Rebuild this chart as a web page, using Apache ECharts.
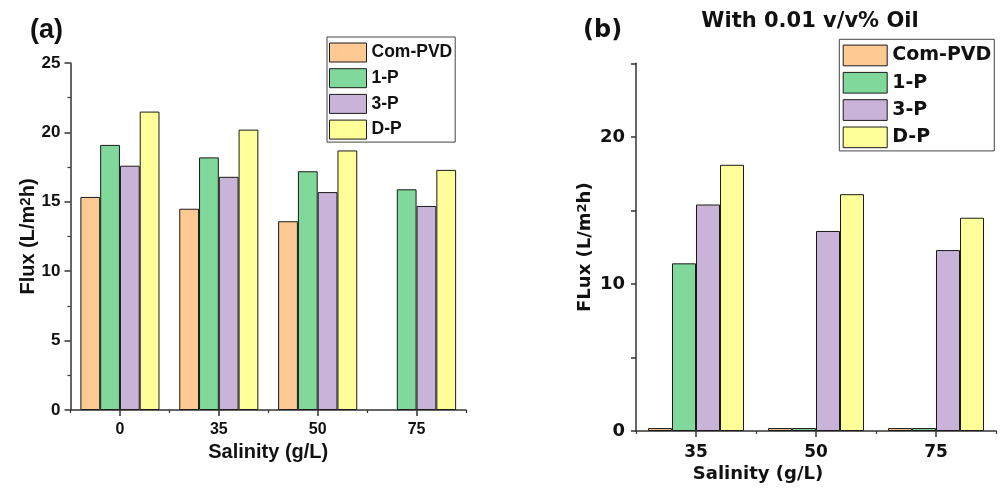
<!DOCTYPE html>
<html>
<head>
<meta charset="utf-8">
<script src="https://cdn.jsdelivr.net/npm/echarts@6/dist/echarts.min.js"></script>
<style>
html,body{margin:0;padding:0;background:#fff;}
#c{width:1001px;height:488px;}
</style>
</head>
<body>
<div id="c"></div>
<script>
// ---- data ----
const seriesNames = ['Com-PVD', '1-P', '3-P', 'D-P'];
const categoriesA = ['0', '35', '50', '75'];
const comPVD_A = [15.35, 14.5, 13.6, null];
const oneP_A = [19.1, 18.2, 17.2, 15.9];
const threeP_A = [17.6, 16.8, 15.7, 14.7];
const dP_A = [21.5, 20.2, 18.7, 17.3];

const categoriesB = ['35', '50', '75'];
const comPVD_B = [0.2, 0.2, 0.2];
const oneP_B = [11.4, 0.2, 0.2];
const threeP_B = [15.4, 13.6, 12.3];
const dP_B = [18.1, 16.1, 14.5];

const titleA = '(a)';
const titleB = '(b)';
const subtitleB = 'With 0.01 v/v% Oil';
const xNameA = 'Salinity (g/L)';
const xNameB = 'Salinity (g/L)';

// ---- styles ----
const colors = ['#FFC994', '#80D99B', '#C9B3D8', '#FFFF99'];
const FA = 'Arial, "Liberation Sans", sans-serif';
const FB = '"DejaVu Sans", sans-serif';
const axisColor = '#333';

const dataA = [comPVD_A, oneP_A, threeP_A, dP_A];
const dataB = [comPVD_B, oneP_B, threeP_B, dP_B];

function barSeries(data, xi, yi) {
  return seriesNames.map((n, i) => ({
    name: n, type: 'bar', xAxisIndex: xi, yAxisIndex: yi,
    data: data[i].map(v => v === null ? '-' : v),
    barGap: '0%', barCategoryGap: '20%',
    itemStyle: { color: colors[i], borderColor: '#1a1a1a', borderWidth: 1 },
    emphasis: { disabled: true }
  }));
}

function catAxis(gi, cats, fontFam, fs, margin, name, nameGap, nameFs, namePad) {
  return [{
    type: 'category', gridIndex: gi, data: cats, position: 'bottom',
    axisLine: { show: true, lineStyle: { color: axisColor, width: 1.5 } },
    axisTick: { show: true, alignWithLabel: true, length: 6, lineStyle: { color: axisColor, width: 1.5 } },
    axisLabel: { margin: margin, fontFamily: fontFam, fontWeight: 'bold', fontSize: fs, color: '#111' },
    name: name, nameLocation: 'middle', nameGap: nameGap, nameMoveOverlap: false,
    nameTextStyle: { fontFamily: fontFam, fontWeight: 'bold', fontSize: nameFs, color: '#111', padding: namePad }
  }, {
    type: 'category', gridIndex: gi, data: cats, position: 'bottom',
    axisLine: { show: false },
    axisTick: { show: true, alignWithLabel: false, length: 3, lineStyle: { color: axisColor, width: 1.2 } },
    axisLabel: { show: false }
  }];
}

const option = {
  animation: false,
  backgroundColor: '#fff',
  grid: [
    { left: 70.5, top: 63, width: 395.5, height: 347 },
    { left: 636, top: 63.3, width: 360, height: 369.4 }
  ],
  xAxis: [
    ...catAxis(0, categoriesA, FA, 16, 12, xNameA, 32, 20, [0, 0, 0, 0]),
    ...catAxis(1, categoriesB, FB, 17, 13, xNameB, 34, 18, [0, 116, 0, 0])
  ],
  yAxis: [
    {
      type: 'value', gridIndex: 0, min: 0, max: 25, interval: 5,
      axisLine: { show: true, lineStyle: { color: axisColor, width: 1.5 } },
      axisTick: { show: true, length: 6, lineStyle: { color: axisColor, width: 1.5 } },
      minorTick: { show: true, splitNumber: 2, length: 3, lineStyle: { color: axisColor, width: 1.2 } },
      splitLine: { show: false },
      axisLabel: { margin: 10, fontFamily: FA, fontWeight: 'bold', fontSize: 17, color: '#111' },
      name: '{n|Flux (L/m}{s|2}{n|h)}', nameLocation: 'middle', nameGap: 32, nameRotate: 90,
      nameMoveOverlap: false,
      nameTextStyle: {
        rich: {
          n: { fontFamily: FA, fontWeight: 'bold', fontSize: 20, color: '#111', lineHeight: 20, verticalAlign: 'bottom' },
          s: { fontFamily: FA, fontWeight: 'bold', fontSize: 15, color: '#111', lineHeight: 15, verticalAlign: 'top', padding: [0, 0, 10, 0] }
        }
      }
    },
    {
      type: 'value', gridIndex: 1, min: 0, max: 25, interval: 5,
      axisLine: { show: true, lineStyle: { color: axisColor, width: 1.5 } },
      axisTick: { show: true, length: 5, lineStyle: { color: axisColor, width: 1.5 } },
      splitLine: { show: false },
      axisLabel: {
        margin: 11, fontFamily: FB, fontWeight: 'bold', fontSize: 18, color: '#111',
        formatter: v => (v % 10 === 0 ? String(v) : '')
      },
      name: '{n|FLux (L/m}{s|2}{n|h)}', nameLocation: 'middle', nameGap: 42, nameRotate: 90,
      nameMoveOverlap: false,
      nameTextStyle: {
        rich: {
          n: { fontFamily: FB, fontWeight: 'bold', fontSize: 18, color: '#111', lineHeight: 18, verticalAlign: 'bottom' },
          s: { fontFamily: FB, fontWeight: 'bold', fontSize: 13, color: '#111', lineHeight: 13, verticalAlign: 'top', padding: [0, 0, 7, 0] }
        }
      }
    }
  ],
  legend: [
    {
      data: seriesNames, orient: 'vertical', left: 327, top: 37,
      padding: [5.5, 3, 2.5, 2], itemWidth: 37, itemHeight: 19, itemGap: 5.7,
      borderColor: '#444', borderWidth: 1, icon: 'rect',
      itemStyle: { borderColor: '#1a1a1a', borderWidth: 1 },
      textStyle: { fontFamily: FA, fontWeight: 'bold', fontSize: 17.5, color: '#111' },
      selectedMode: false
    },
    {
      data: seriesNames, orient: 'vertical', left: 839.3, top: 39.3,
      padding: [5.3, 3, 2.7, 3.4], itemWidth: 44, itemHeight: 20.7, itemGap: 5.6,
      borderColor: '#444', borderWidth: 1, icon: 'rect',
      itemStyle: { borderColor: '#1a1a1a', borderWidth: 1 },
      textStyle: { fontFamily: FB, fontWeight: 'bold', fontSize: 19, color: '#111' },
      selectedMode: false
    }
  ],
  graphic: [
    { type: 'text', left: 30, top: 17, style: { text: titleA, font: 'bold 27px ' + FA, fill: '#111' } },
    { type: 'text', left: 583, top: 19, style: { text: titleB, font: 'bold 24px ' + FB, fill: '#111' } },
    { type: 'text', x: 810, y: 21.7, style: { text: subtitleB, font: 'bold 21px ' + FB, fill: '#111', textAlign: 'center', textVerticalAlign: 'middle' } }
  ],
  series: [
    ...barSeries(dataA, 0, 0),
    ...barSeries(dataB, 2, 1)
  ]
};

const chart = echarts.init(document.getElementById('c'), null, { renderer: 'canvas' });
chart.setOption(option);
</script>
</body>
</html>
